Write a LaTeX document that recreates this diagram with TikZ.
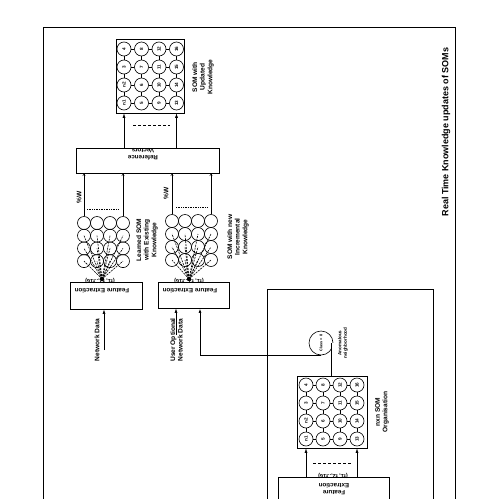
\documentclass[tikz,border=0pt]{standalone}
\usepackage{fontspec}
\setmainfont{Liberation Sans}
\usetikzlibrary{arrows.meta}

\tikzset{
	somcell/.style={circle, draw, line width=0.6pt, inner sep=0pt, minimum size=14pt, rotate=90, font=\bfseries\fontsize{4.6}{5}\selectfont},
	netcell/.style={circle, draw, line width=0.6pt, inner sep=0pt, minimum size=13pt},
	fbox/.style={draw, rectangle, line width=0.9pt, inner sep=0pt},
	lbl/.style={rotate=90, align=center, font=\bfseries\fontsize{6.6}{7.6}\selectfont},
	upside/.style={rotate=180, align=center, font=\bfseries\fontsize{6.2}{7}\selectfont},
	fillarrow/.style={-{Latex[length=4.5pt, width=3pt]}, line width=0.6pt},
	openarrow/.style={-{Straight Barb[length=2pt, width=2.5pt]}, line width=0.5pt}
}

\begin{document}
\begin{tikzpicture}[x=1pt, y=-1pt]

		\useasboundingbox (0,0) rectangle (500,498);

		% --- Frames ---
		\draw[line width=0.9pt] (43,27) rectangle (455,520);
		\draw[line width=0.9pt] (267,289) rectangle (433,520);
		\node[rotate=90, font=\bfseries\fontsize{9}{10}\selectfont] (title) at (446,132) {Real Time Knowledge updates of SOMs};

		% --- Boxes ---
		\node[fbox, minimum width=143pt, minimum height=25pt] (refbox) at (147.5,160.5) {};
		\node[upside] (reftxt) at (143,154.5) {Reference\\Vectors};
		\node[fbox, minimum width=72pt, minimum height=27pt] (fe1) at (106,295.5) {};
		\node[upside] (fe1txt) at (102,291) {Feature Extraction};
		\node[fbox, minimum width=71pt, minimum height=26pt] (fe2) at (193.5,295) {};
		\node[upside] (fe2txt) at (190,291) {Feature Extraction};
		\node[fbox, minimum width=111pt, minimum height=46pt] (fe3) at (333.5,500) {};
		\node[upside] (fe3txt) at (334,489) {Feature\\Extraction};

		% feature vectors
		\node[upside, font=\bfseries\fontsize{5.6}{6}\selectfont] (fvec1) at (100,281) {(f1, f2,..f16)};
		\node[upside, font=\bfseries\fontsize{5.6}{6}\selectfont] (fvec2) at (189,281) {(f1, f2,..f16)};
		\node[upside, font=\bfseries\fontsize{5.6}{6}\selectfont] (fvec3) at (333,476) {(f1, f2,..f16)};

		% --- SOM grids ---
		\node[draw, line width=0.6pt, minimum width=68pt, minimum height=74pt] (gridUbox) at (150,76) {};
		\node[draw, line width=0.6pt, minimum width=70pt, minimum height=72pt] (gridBbox) at (332,412) {};
		\foreach \c/\labs in {0/{4,3,n2,n1}, 1/{8,7,6,5}, 2/{12,11,10,9}, 3/{16,15,14,13}} {
			\foreach \lab [count=\i from 0] in \labs {
				\node[somcell] (gridU-\c-\i) at ({124+17.5*\c},{49+18*\i}) {\lab};
				\node[somcell] (gridB-\c-\i) at ({306+17*\c},{385+18*\i}) {\lab};
			}
		}
		% neighbour links
		\foreach \c in {0,1,2} {
			\foreach \i in {0,...,3} {
				\pgfmathtruncatemacro\n{\c+1}
				\draw (gridU-\c-\i) -- (gridU-\n-\i);
				\draw (gridB-\c-\i) -- (gridB-\n-\i);
				\draw (gridU-\i-\c) -- (gridU-\i-\n);
				\draw (gridB-\i-\c) -- (gridB-\i-\n);
			}
		}
		\node[lbl] (updtxt) at (203,77) {SOM with\\Updated\\Knowledge};
		\node[lbl] (orgtxt) at (382,412) {nxn SOM\\Organisation};

		% --- Neural nets ---
		\coordinate (hubL) at (102,279);
		\coordinate (hubN) at (189,279);
		\foreach \c in {0,...,3} {
			\foreach \i in {0,...,3} {
				\node[netcell] (netL-\c-\i) at ({84+13*\c},{223+12.7*\i}) {};
				\node[netcell] (netN-\c-\i) at ({172+13*\c},{221+13*\i}) {};
			}
		}
		\foreach \c in {0,...,3} {
			\foreach \i in {1,2,3} {
				\draw[dash pattern=on 2pt off 1pt, line width=0.6pt] (hubL) -- (netL-\c-\i.center);
				\draw[dash pattern=on 2pt off 1pt, line width=0.6pt] (hubN) -- (netN-\c-\i.center);
			}
		}
		\fill (hubL) circle (2.2pt);
		\fill (hubN) circle (2.2pt);
		\node[lbl] (learntxt) at (147,240) {Learned SOM\\with Existing\\Knowledge};
		\node[lbl] (newtxt) at (238,237) {SOM with new\\Incremental\\Knowledge};

		% weights to reference vectors
		\draw[openarrow] (netL-0-0.north) -- (netL-0-0.north |- refbox.south);
		\draw[openarrow] (netL-3-0.north) -- (netL-3-0.north |- refbox.south);
		\draw[openarrow] (netN-0-0.north) -- (netN-0-0.north |- refbox.south);
		\draw[openarrow] (netN-3-0.north) -- (netN-3-0.north |- refbox.south);
		\draw[dash pattern=on 1pt off 0.7pt, line width=0.7pt] (87,209) -- (118,209);
		\draw[dash pattern=on 1pt off 0.7pt, line width=0.7pt] (176,207) -- (208,207);
		\node[lbl] (pctL) at (79,197) {\%W};
		\node[lbl] (pctN) at (166,193) {\%W};

		% reference vectors to updated SOM
		\draw[fillarrow] (refbox.north -| gridU-0-3) -- (gridU-0-3 |- gridUbox.south);
		\draw[fillarrow] (refbox.north -| gridU-3-3) -- (gridU-3-3 |- gridUbox.south);
		\draw[dash pattern=on 3pt off 2pt, line width=0.7pt] (133,125) -- (170,125);

		% feature extraction to nxn SOM
		\draw[fillarrow] (fe3.north -| gridB-0-3) -- (gridB-0-3 |- gridBbox.south);
		\draw[fillarrow] (fe3.north -| gridB-3-3) -- (gridB-3-3 |- gridBbox.south);
		\draw[dash pattern=on 3pt off 2pt, line width=0.7pt] (313,463) -- (352,463);

		% --- Inputs ---
		\coordinate (netd) at (104,350);
		\coordinate (usr) at (176,335);
		\draw[fillarrow] (netd) -- (netd |- fe1.south);
		\draw[fillarrow] (usr) -- (usr |- fe2.south);
		\node[lbl] (netdtxt) at (97,340) {Network Data};
		\node[lbl] (usrtxt) at (176.5,340) {User Optional\\Network Data};

		% --- Anomalous class feedback ---
		\node[circle, draw, line width=0.6pt, minimum size=24pt, inner sep=0pt, rotate=90, font=\bfseries\fontsize{3.8}{4}\selectfont] (cls) at (321,343) {Class = 8};
		\node[rotate=90, align=center, font=\bfseries\fontsize{4.6}{5.4}\selectfont] (anotxt) at (343,343) {Anomalous\\neighborhood};
		\draw[double, double distance=3pt] (cls.south) -- (cls.south |- gridBbox.north);
		\draw[fillarrow, line width=1pt] (cls.west) -| ([xshift=6.5pt]fe2.south);

	\end{tikzpicture}
\end{document}
